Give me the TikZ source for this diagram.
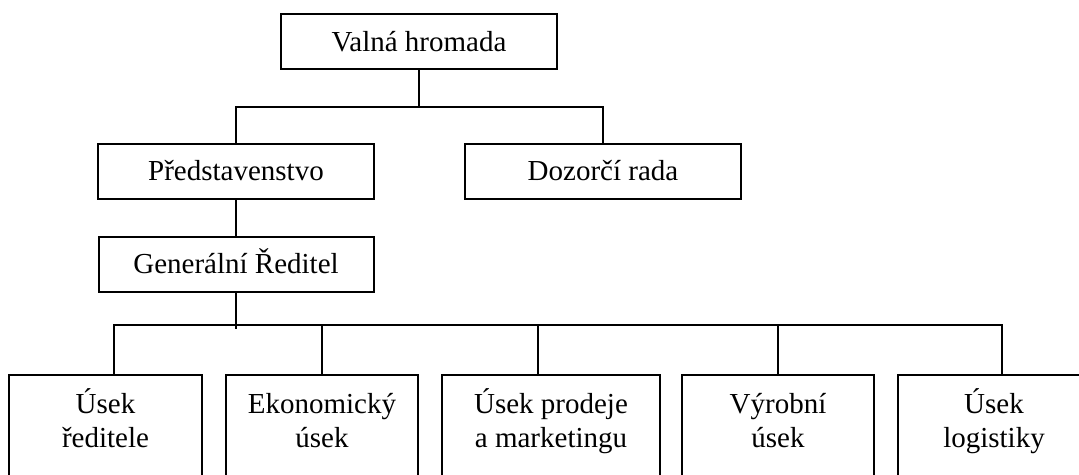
\documentclass[tikz,border=0pt]{standalone}
\usepackage{fontspec}
\setmainfont{Liberation Serif}
\usepackage{tikz}
\usetikzlibrary{positioning, calc}

\begin{document}
\begin{tikzpicture}[x=1pt, y=-1pt, line width=2pt,
    orgbox/.style={draw, rectangle, inner sep=0pt, minimum height=55,
        text height=19pt, text depth=0pt, font=\fontsize{29}{34.5}\selectfont},
    deptbox/.style={draw, rectangle, anchor=north, inner xsep=4pt, inner ysep=14pt,
        align=flush center, text height=24pt, text depth=120pt,
        font=\fontsize{29}{34.5}\selectfont}]
    \useasboundingbox (0,0) rectangle (1079,474);
    \clip (0,0) rectangle (1079,474);

    % horni uroven
    \node[orgbox, minimum width=276] (valna) at (419,41.5) {Valná hromada};
    \node[orgbox, minimum width=276] (predst) at (236,171) {Představenstvo};
    \node[orgbox, minimum width=276] (dozor) at (603,171) {Dozorčí rada};
    \node[orgbox, minimum width=275] (gen) at (236,264) {Generální Ředitel};

    % useky
    \node[deptbox, text width=185] (usek1) at (105.5,374) {Úsek\\ředitele};
    \node[deptbox, text width=184] (usek2) at (322,374) {Ekonomický\\úsek};
    \node[deptbox, text width=210] (usek3) at (551,374) {Úsek prodeje\\a marketingu};
    \node[deptbox, text width=184] (usek4) at (778,374) {Výrobní\\úsek};
    \node[deptbox, text width=184] (usek5) at (994,374) {Úsek\\logistiky};

    \coordinate (bus1) at (419,107);
    \coordinate (bus2) at (236,325);
    \coordinate (genend) at (236,329);

    \draw (valna.south) -- (bus1);
    \draw (predst.north) |- (bus1) -| (dozor.north);
    \draw (predst.south) -- (gen.north);
    \draw (gen.south) -- (genend);

    \draw ([xshift=8.5pt]usek1.north) |- (bus2) -| ([xshift=8pt]usek5.north);
    \draw (usek2.north) -- (usek2.north |- bus2);
    \draw ([xshift=-13pt]usek3.north) -- ([xshift=-13pt]usek3.north |- bus2);
    \draw (usek4.north) -- (usek4.north |- bus2);
\end{tikzpicture}
\end{document}
